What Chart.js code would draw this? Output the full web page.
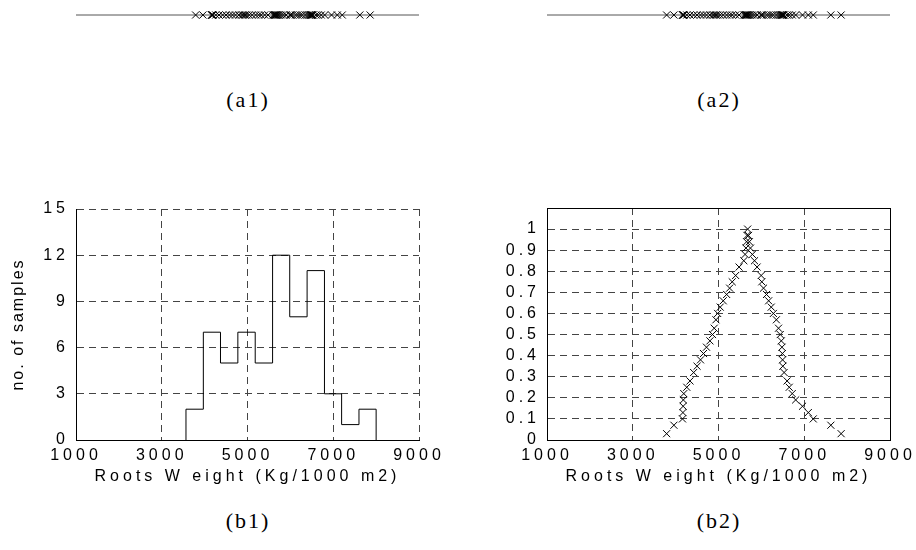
<!DOCTYPE html>
<html>
<head>
<meta charset="utf-8">
<script src="https://cdn.jsdelivr.net/npm/chart.js@4"></script>
<style>
  html, body { margin: 0; padding: 0; background: #fff; overflow: hidden; }
  body { position: relative; width: 916px; height: 550px; }
  canvas { position: absolute; }
  .lbl {
    position: absolute; transform: translateX(-50%); white-space: nowrap;
    font-family: "Liberation Serif", "Times New Roman", serif;
    font-size: 22px; line-height: 22px; letter-spacing: 2px; color: #000;
  }
</style>
</head>
<body>
<canvas id="a1" width="458" height="40" style="left:0;top:0"></canvas>
<canvas id="a2" width="480" height="40" style="left:458px;top:0"></canvas>
<canvas id="b1" width="458" height="310" style="left:0;top:190px"></canvas>
<canvas id="b2" width="480" height="310" style="left:458px;top:190px"></canvas>
<div class="lbl" style="left:248px;top:89px">(a1)</div>
<div class="lbl" style="left:719px;top:89px">(a2)</div>
<div class="lbl" style="left:248px;top:510px">(b1)</div>
<div class="lbl" style="left:719px;top:510px">(b2)</div>
<script>
// sorted sample weights (Kg/1000 m2)
const samples = [3790, 3960, 4160, 4170, 4175, 4180, 4190, 4260, 4335, 4420,
  4500, 4580, 4650, 4720, 4800, 4860, 4900, 4940, 4980, 5040,
  5110, 5190, 5260, 5320, 5400, 5480, 5590, 5620, 5640, 5655,
  5665, 5680, 5700, 5720, 5745, 5790, 5840, 5900, 5995, 6010,
  6050, 6120, 6170, 6230, 6280, 6350, 6400, 6440, 6465, 6480,
  6490, 6495, 6500, 6530, 6600, 6650, 6720, 6800, 6960, 7095,
  7210, 7620, 7860];
// folded cumulative fraction for each sample (b2)
const foldedCdf = [0.03, 0.07, 0.10, 0.13, 0.16, 0.19, 0.22, 0.25, 0.28, 0.32,
  0.35, 0.38, 0.41, 0.44, 0.47, 0.50, 0.53, 0.57, 0.60, 0.63,
  0.66, 0.69, 0.72, 0.75, 0.78, 0.82, 0.85, 0.88, 0.91, 0.94,
  0.97, 1.00, 0.97, 0.94, 0.91, 0.88, 0.85, 0.82, 0.78, 0.75,
  0.72, 0.69, 0.66, 0.63, 0.60, 0.57, 0.53, 0.50, 0.47, 0.44,
  0.41, 0.38, 0.35, 0.32, 0.28, 0.25, 0.22, 0.19, 0.16, 0.13,
  0.10, 0.07, 0.03];
// histogram (b1)
const binEdges = [3565, 3970, 4370, 4775, 5180, 5585, 5985, 6390, 6795, 7195, 7600, 8000];
const binCounts = [2, 7, 5, 7, 5, 12, 8, 11, 3, 1, 2];
const xTicks = [1000, 3000, 5000, 7000, 9000];
const xTitle = "Roots W eight (Kg/1000 m2)";
const yTitle = "no. of samples";

Chart.defaults.font.family = "'Liberation Sans', Arial, sans-serif";
Chart.defaults.font.size = 16;
Chart.defaults.color = "#000";

const spacing = {
  id: "spacing",
  beforeLayout(chart) { chart.ctx.letterSpacing = "4px"; },
  beforeDraw(chart) { chart.ctx.letterSpacing = "4px"; }
};

const frame = {
  id: "frame",
  afterDraw(chart) {
    const { ctx, chartArea: a } = chart;
    ctx.save();
    ctx.strokeStyle = "#000";
    ctx.lineWidth = 1;
    ctx.strokeRect(a.left + 0.5, a.top + 0.5, a.right - a.left, a.bottom - a.top);
    ctx.restore();
  }
};

function narrowTitle(scale) {
  const draw = Object.getPrototypeOf(scale).drawTitle;
  scale.drawTitle = function () {
    this.ctx.save();
    this.ctx.letterSpacing = "2px";
    draw.call(this);
    this.ctx.restore();
  };
}

const gridOpts = { color: "#444", lineWidth: 1, drawTicks: false };
const borderOpts = { display: true, color: "#000", width: 1, dash: [7, 5] };

function xScale() {
  return {
    type: "linear", min: xTicks[0], max: xTicks[xTicks.length - 1],
    afterBuildTicks: (s) => { s.ticks = xTicks.map((v) => ({ value: v })); },
    ticks: { padding: 6, maxRotation: 0, autoSkip: false, callback: (v) => String(v) },
    grid: gridOpts, border: borderOpts,
    title: { display: true, text: xTitle, padding: { top: 0, bottom: 14 } },
    afterFit: (s) => { s.height = 60; }
  };
}

function strip(id, padLeft, padRight) {
  new Chart(document.getElementById(id), {
    type: "scatter",
    data: {
      datasets: [
        {
          data: samples.map((v) => ({ x: v, y: 0 })),
          pointStyle: "crossRot", pointRadius: 5, borderColor: "#000", borderWidth: 1
        },
        {
          data: [{ x: xTicks[0], y: 0 }, { x: xTicks[xTicks.length - 1], y: 0 }],
          showLine: true, pointRadius: 0, borderColor: "#555", borderWidth: 1
        }
      ]
    },
    options: {
      responsive: false, animation: false,
      layout: { padding: { left: padLeft, right: padRight, top: 0, bottom: 16 } },
      plugins: { legend: { display: false }, tooltip: { enabled: false } },
      scales: {
        x: { type: "linear", display: false, min: 1000, max: 9000 },
        y: { display: false, min: -1, max: 1 }
      }
    }
  });
}

strip("a1", 76, 39);
strip("a2", 89, 48);

// b1: histogram as a stair outline
const stairs = [{ x: binEdges[0], y: 0 }];
binCounts.forEach((c, i) => stairs.push({ x: binEdges[i], y: c }));
stairs.push({ x: binEdges[binEdges.length - 1], y: 0 });

new Chart(document.getElementById("b1"), {
  type: "scatter",
  data: {
    datasets: [{
      data: stairs, showLine: true, stepped: "before",
      borderColor: "#000", borderWidth: 1, pointRadius: 0, fill: false
    }]
  },
  options: {
    responsive: false, animation: false,
    layout: { padding: { left: 0, right: 39, top: 19, bottom: 0 } },
    plugins: { legend: { display: false }, tooltip: { enabled: false } },
    scales: {
      x: xScale(),
      y: {
        min: 0, max: 15,
        ticks: { stepSize: 3, padding: 7, autoSkip: false },
        grid: gridOpts, border: borderOpts,
        title: { display: true, text: yTitle, padding: { top: 9, bottom: 0 } },
        afterFit: (s) => { s.width = 76; narrowTitle(s); }
      }
    }
  },
  plugins: [spacing]
});

// b2: folded cumulative distribution
new Chart(document.getElementById("b2"), {
  type: "scatter",
  data: {
    datasets: [{
      data: samples.map((v, i) => ({ x: v, y: foldedCdf[i] })),
      pointStyle: "crossRot", pointRadius: 5, borderColor: "#000", borderWidth: 1
    }]
  },
  options: {
    responsive: false, animation: false,
    layout: { padding: { left: 0, right: 48, top: 18, bottom: 0 } },
    plugins: { legend: { display: false }, tooltip: { enabled: false } },
    scales: {
      x: xScale(),
      y: {
        min: 0, max: 1.1,
        ticks: {
          stepSize: 0.1, padding: 7, autoSkip: false,
          callback: (v) => (v > 1.05 ? "" : String(Math.round(v * 10) / 10))
        },
        grid: gridOpts, border: borderOpts,
        afterFit: (s) => { s.width = 89; }
      }
    }
  },
  plugins: [spacing, frame]
});
</script>
</body>
</html>
